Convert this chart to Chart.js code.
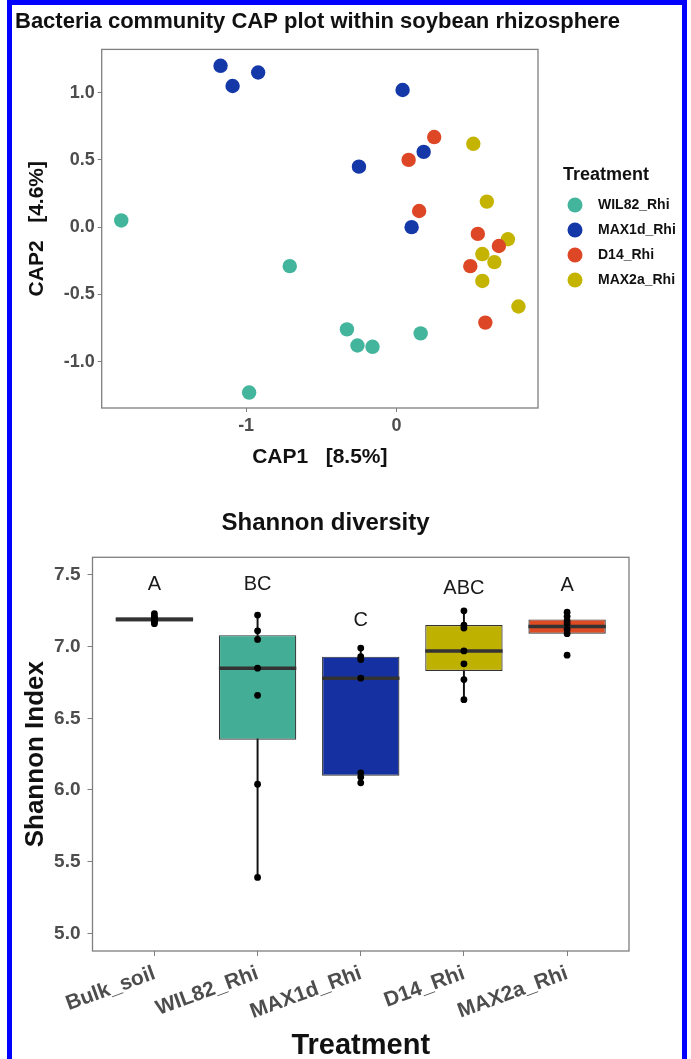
<!DOCTYPE html>
<html>
<head>
<meta charset="utf-8">
<title>Bacteria community CAP plot and Shannon diversity</title>
<script src="https://cdn.jsdelivr.net/npm/chart.js@4.4.1/dist/chart.umd.min.js"></script>
<style>
  body { margin: 0; background: #fff; }
  #page { position: relative; width: 691px; height: 1059px; overflow: hidden; background: #fff; }
  #capChart { position: absolute; left: 0; top: 0; }
  #shannonChart { position: absolute; left: 0; top: 480px; }
  #frame { position: absolute; left: 7px; top: 0; width: 680px; height: 1080px; border: 5px solid #0000ff; box-sizing: border-box; pointer-events: none; }
</style>
</head>
<body>
<div id="page">
  <canvas id="capChart" width="691" height="470"></canvas>
  <canvas id="shannonChart" width="691" height="579"></canvas>
  <div id="frame"></div>
</div>
<script>
// CAP scores (CAP1, CAP2) per treatment
const capGroups = ["WIL82_Rhi", "MAX1d_Rhi", "D14_Rhi", "MAX2a_Rhi"];
const capColors = ["#43b59c", "#1538a8", "#dd4726", "#c4b400"];
const wil82Cap1 = [-1.83, -0.71, -0.33, -0.26, -0.16, -0.98, 0.16];
const wil82Cap2 = [0.05, -0.29, -0.76, -0.88, -0.89, -1.23, -0.79];
const max1dCap1 = [-1.17, -1.09, -0.92, 0.04, -0.25, 0.18, 0.10];
const max1dCap2 = [1.20, 1.05, 1.15, 1.02, 0.45, 0.56, 0.00];
const d14Cap1 = [0.25, 0.08, 0.15, 0.54, 0.68, 0.49, 0.59];
const d14Cap2 = [0.67, 0.50, 0.12, -0.05, -0.14, -0.29, -0.71];
const max2aCap1 = [0.51, 0.60, 0.74, 0.57, 0.65, 0.57, 0.81];
const max2aCap2 = [0.62, 0.19, -0.09, -0.20, -0.26, -0.40, -0.59];
const cap1Ticks = [-1, 0];
const cap2Ticks = [-1.0, -0.5, 0.0, 0.5, 1.0];

// Shannon diversity per treatment
const treatments = ["Bulk_soil", "WIL82_Rhi", "MAX1d_Rhi", "D14_Rhi", "MAX2a_Rhi"];
const boxColors = ["#444444", "#44ad95", "#1531a1", "#bfb100", "#dd4b25"];
const shannonQ1 = [7.175, 6.35, 6.10, 6.83, 7.09];
const shannonMedian = [7.19, 6.85, 6.78, 6.97, 7.14];
const shannonQ3 = [7.205, 7.08, 6.93, 7.15, 7.19];
const shannonLow = [7.16, 5.39, 6.05, 6.63, 7.09];
const shannonHigh = [7.23, 7.22, 6.99, 7.25, 7.24];
const bulkSoil = [7.16, 7.17, 7.18, 7.19, 7.20, 7.21, 7.23];
const wil82 = [7.22, 7.11, 7.05, 6.85, 6.66, 6.04, 5.39];
const max1d = [6.99, 6.93, 6.91, 6.78, 6.12, 6.09, 6.05];
const d14 = [7.25, 7.15, 7.13, 6.97, 6.88, 6.77, 6.63];
const max2a = [7.24, 7.21, 7.18, 7.16, 7.12, 7.09, 6.94];
const groupLetters = ["A", "BC", "C", "ABC", "A"];
const letterY = [7.436, 7.43, 7.18, 7.406, 7.425];
const shannonTicks = [5.0, 5.5, 6.0, 6.5, 7.0, 7.5];

Chart.defaults.font.family = "'Liberation Sans', Arial, sans-serif";
Chart.defaults.color = "#4d4d4d";

// Grey frame round the plotting panel (ggplot theme_bw style)
const panelBorder = {
  id: "panelBorder",
  beforeDatasetsDraw(chart) {
    const { ctx, chartArea: a } = chart;
    ctx.save();
    ctx.strokeStyle = "#7f7f7f";
    ctx.lineWidth = 1.3;
    ctx.strokeRect(a.left, a.top, a.right - a.left, a.bottom - a.top);
    ctx.restore();
  },
};

// Legend to the right of the CAP panel
const treatmentLegend = {
  id: "treatmentLegend",
  afterDraw(chart) {
    const { ctx, chartArea: a } = chart;
    const x0 = a.right + 25;
    ctx.save();
    ctx.textBaseline = "middle";
    ctx.fillStyle = "#111";
    ctx.font = "bold 18px 'Liberation Sans', Arial, sans-serif";
    ctx.fillText("Treatment", x0, 175);
    ctx.font = "bold 14px 'Liberation Sans', Arial, sans-serif";
    chart.data.datasets.forEach((ds, i) => {
      const y = 205 + i * 25;
      ctx.beginPath();
      ctx.arc(x0 + 12, y, 7.5, 0, Math.PI * 2);
      ctx.fillStyle = ds.backgroundColor;
      ctx.fill();
      ctx.fillStyle = "#111";
      ctx.fillText(ds.label, x0 + 35, y);
    });
    ctx.restore();
  },
};

// Median line drawn over each box, right after the boxes dataset
const boxMedians = {
  id: "boxMedians",
  afterDatasetDraw(chart, args) {
    if (chart.data.datasets[args.index].label !== "boxes") return;
    const { ctx } = chart;
    const yScale = chart.scales.y;
    ctx.save();
    ctx.strokeStyle = "#333";
    ctx.lineWidth = 3.5;
    args.meta.data.forEach((bar, i) => {
      const y = yScale.getPixelForValue(shannonMedian[i]);
      ctx.beginPath();
      ctx.moveTo(bar.x - bar.width / 2, y);
      ctx.lineTo(bar.x + bar.width / 2, y);
      ctx.stroke();
    });
    ctx.restore();
  },
};

// Significance letters above the boxes
const groupLabels = {
  id: "groupLabels",
  afterDatasetsDraw(chart) {
    const { ctx } = chart;
    ctx.save();
    ctx.fillStyle = "#1a1a1a";
    ctx.font = "20px 'Liberation Sans', Arial, sans-serif";
    ctx.textAlign = "center";
    ctx.textBaseline = "middle";
    groupLetters.forEach((txt, i) => {
      ctx.fillText(txt, chart.scales.x.getPixelForValue(i + 1), chart.scales.y.getPixelForValue(letterY[i]));
    });
    ctx.restore();
  },
};

// CAP scatter plot
const capSeries = [
  [wil82Cap1, wil82Cap2],
  [max1dCap1, max1dCap2],
  [d14Cap1, d14Cap2],
  [max2aCap1, max2aCap2],
];

new Chart(document.getElementById("capChart"), {
  type: "scatter",
  data: {
    datasets: capSeries.map(([xs, ys], i) => ({
      label: capGroups[i],
      data: xs.map((x, j) => ({ x: x, y: ys[j] })),
      backgroundColor: capColors[i],
      borderColor: capColors[i],
      pointRadius: 7.2,
      pointBorderWidth: 0,
    })),
  },
  options: {
    responsive: false,
    animation: false,
    layout: { padding: { left: 15, right: 0, top: 0, bottom: 0 } },
    plugins: {
      legend: { display: false },
      tooltip: { enabled: false },
      title: {
        display: true,
        text: "Bacteria community CAP plot within soybean rhizosphere",
        align: "start",
        color: "#111",
        font: { size: 22, weight: "bold" },
        padding: { top: 9, bottom: 14 },
      },
    },
    scales: {
      x: {
        type: "linear",
        min: -1.96,
        max: 0.94,
        afterBuildTicks: (axis) => {
          axis.ticks = cap1Ticks.map((v) => ({ value: v }));
        },
        afterFit: (axis) => {
          axis.height = 62;
        },
        border: { display: false },
        grid: { drawOnChartArea: false, tickLength: 4, color: "#7f7f7f" },
        ticks: {
          color: "#4d4d4d",
          font: { size: 18, weight: "bold" },
          padding: 3,
          callback: (v) => String(v),
        },
        title: {
          display: true,
          text: "CAP1   [8.5%]",
          color: "#111",
          font: { size: 21, weight: "bold" },
          padding: { top: 0, bottom: 0 },
        },
      },
      y: {
        min: -1.345,
        max: 1.322,
        afterBuildTicks: (axis) => {
          axis.ticks = cap2Ticks.map((v) => ({ value: v }));
        },
        afterFit: (axis) => {
          axis.width = 86.7;
        },
        border: { display: false },
        grid: { drawOnChartArea: false, tickLength: 4, color: "#7f7f7f" },
        ticks: {
          color: "#4d4d4d",
          font: { size: 18, weight: "bold" },
          padding: 3,
          callback: (v) => v.toFixed(1),
        },
        title: {
          display: true,
          text: "CAP2   [4.6%]",
          color: "#111",
          font: { size: 21, weight: "bold" },
          padding: { top: 10 },
        },
      },
      // empty right-hand axis that keeps room for the legend
      legendSpace: {
        position: "right",
        display: true,
        ticks: { display: false },
        grid: { display: false },
        border: { display: false },
        afterFit: (axis) => {
          axis.width = 153;
        },
      },
    },
  },
  plugins: [panelBorder, treatmentLegend],
});

// Shannon diversity box plot
const sampleGroups = [bulkSoil, wil82, max1d, d14, max2a];

new Chart(document.getElementById("shannonChart"), {
  type: "bar",
  data: {
    datasets: [
      {
        type: "scatter",
        label: "samples",
        data: sampleGroups.flatMap((vals, i) => vals.map((v) => ({ x: i + 1, y: v }))),
        backgroundColor: "#000",
        borderColor: "#000",
        pointRadius: 3.4,
        pointBorderWidth: 0,
        order: 0,
      },
      {
        label: "boxes",
        data: treatments.map((t, i) => ({ x: i + 1, y: [shannonQ1[i], shannonQ3[i]] })),
        backgroundColor: boxColors,
        borderColor: "#333",
        borderWidth: 1.2,
        borderSkipped: false,
        grouped: false,
        barPercentage: 0.75,
        categoryPercentage: 1,
        order: 1,
      },
      {
        label: "whiskers",
        data: treatments.map((t, i) => ({ x: i + 1, y: [shannonLow[i], shannonHigh[i]] })),
        backgroundColor: "#111",
        borderWidth: 0,
        barThickness: 1.3,
        grouped: false,
        order: 2,
      },
    ],
  },
  options: {
    responsive: false,
    animation: false,
    layout: { padding: { left: 22, right: 62, top: 0, bottom: 0 } },
    plugins: {
      legend: { display: false },
      tooltip: { enabled: false },
      title: {
        display: true,
        text: "Shannon diversity",
        color: "#111",
        font: { size: 24, weight: "bold" },
        padding: { top: 28.6, bottom: 19.9 },
      },
    },
    scales: {
      x: {
        type: "linear",
        min: 0.4,
        max: 5.6,
        offset: false,
        afterBuildTicks: (axis) => {
          axis.ticks = treatments.map((t, i) => ({ value: i + 1 }));
        },
        afterFit: (axis) => {
          axis.height = 108;
        },
        border: { display: false },
        grid: { offset: false, drawOnChartArea: false, tickLength: 5, color: "#7f7f7f" },
        ticks: {
          autoSkip: false,
          minRotation: 20,
          maxRotation: 20,
          color: "#4d4d4d",
          font: { size: 21, weight: "bold" },
          padding: 5,
          callback: (v) => treatments[v - 1],
        },
        title: {
          display: true,
          text: "Treatment",
          color: "#111",
          font: { size: 29, weight: "bold", lineHeight: 0.9 },
          padding: { top: 0, bottom: 0 },
        },
      },
      y: {
        min: 4.877,
        max: 7.623,
        beginAtZero: false,
        afterBuildTicks: (axis) => {
          axis.ticks = shannonTicks.map((v) => ({ value: v }));
        },
        afterFit: (axis) => {
          axis.width = 70.5;
        },
        border: { display: false },
        grid: { drawOnChartArea: false, tickLength: 5, color: "#7f7f7f" },
        ticks: {
          color: "#4d4d4d",
          font: { size: 19, weight: "bold" },
          padding: 7,
          callback: (v) => v.toFixed(1),
        },
        title: {
          display: true,
          text: "Shannon Index",
          color: "#111",
          font: { size: 26, weight: "bold", lineHeight: 1 },
          padding: { top: 1 },
        },
      },
    },
  },
  plugins: [panelBorder, boxMedians, groupLabels],
});
</script>
</body>
</html>
